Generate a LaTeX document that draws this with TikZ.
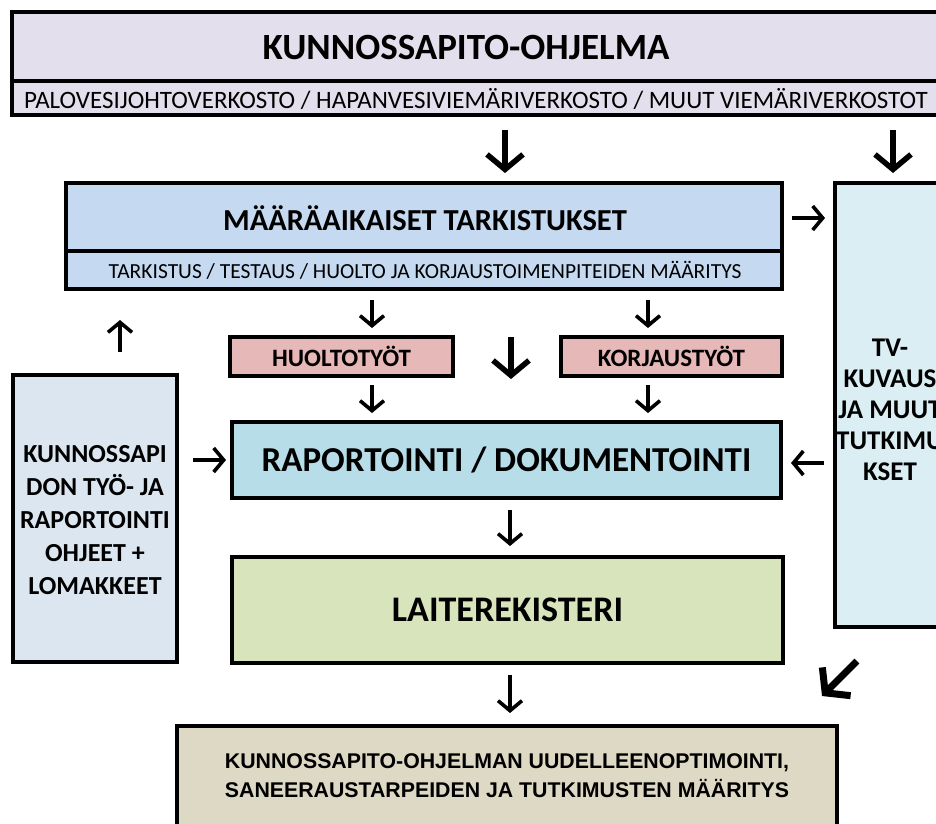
\documentclass[tikz,border=0pt]{standalone}
\usepackage{fontspec}
\setmainfont{Carlito}
\newfontfamily\arialfont{Liberation Sans}
\usetikzlibrary{arrows.meta}
\definecolor{cTop}{HTML}{E4DFEC}
\definecolor{cTark}{HTML}{C5D9F1}
\definecolor{cTV}{HTML}{DAEEF3}
\definecolor{cWork}{HTML}{E6B8B7}
\definecolor{cRap}{HTML}{B7DEE8}
\definecolor{cLeft}{HTML}{DCE6F1}
\definecolor{cLaite}{HTML}{D8E4BC}
\definecolor{cBot}{HTML}{DDD9C4}
\begin{document}
\begin{tikzpicture}[x=1pt,y=-1pt,
  box/.style={draw=black, line width=4.5pt, inner sep=0pt, align=center},
  arr/.style={line width=3.6pt, -{Straight Barb[length=10pt,width=24pt,line width=3.6pt]}},
  bigarr/.style={line width=5.5pt, -{Straight Barb[length=15pt,width=36pt,line width=5.5pt]}},
  txt/.style={inner sep=0pt, align=center}
]
\useasboundingbox (0,0) rectangle (936,823);
\clip (0,0) rectangle (936,823);

% top box
\node[box, fill=cTop, minimum width=940pt, minimum height=103pt] (top) at (482,63.5) {};
\draw[line width=4pt] (12,81) -- (952,81);
\node[txt, font=\bfseries\fontsize{37}{40}\selectfont] (toptitle) at (466,47) {KUNNOSSAPITO-OHJELMA};
\node[txt, font=\fontsize{25}{28}\selectfont] (topsub) at (476,99) {PALOVESIJOHTOVERKOSTO / HAPANVESIVIEMÄRIVERKOSTO / MUUT VIEMÄRIVERKOSTOT};

% tarkistukset
\node[box, fill=cTark, minimum width=716pt, minimum height=106pt] (tark) at (424,236) {};
\draw[line width=3.5pt] (66,251) -- (782,251);
\node[txt, font=\bfseries\fontsize{30.5}{33}\selectfont] (tarktitle) at (425,218) {MÄÄRÄAIKAISET TARKISTUKSET};
\node[txt, font=\fontsize{21.5}{24}\selectfont] (tarksub) at (425,270) {TARKISTUS / TESTAUS / HUOLTO JA KORJAUSTOIMENPITEIDEN MÄÄRITYS};

% TV box
\node[box, fill=cTV, minimum width=120pt, minimum height=444pt] (tv) at (895,405) {};
\node[txt, font=\bfseries\fontsize{27}{31}\selectfont] (tvtext) at (890,410) {TV-\\KUVAUS\\JA MUUT\\TUTKIMU\\KSET};

% works
\node[box, fill=cWork, minimum width=223pt, minimum height=39pt, font=\bfseries\fontsize{25}{28}\selectfont] (huolto) at (341.5,356.5) {HUOLTOTYÖT};
\node[box, fill=cWork, minimum width=221pt, minimum height=39pt, font=\bfseries\fontsize{25}{28}\selectfont] (korjaus) at (671.5,356.5) {KORJAUSTYÖT};

% raportointi
\node[box, fill=cRap, minimum width=549pt, minimum height=76pt, font=\bfseries\fontsize{35}{38}\selectfont] (rap) at (506.5,460) {RAPORTOINTI / DOKUMENTOINTI};

% left box
\node[box, fill=cLeft, minimum width=164pt, minimum height=287pt] (left) at (95,518.5) {};
\node[txt, font=\bfseries\fontsize{26}{33}\selectfont] (lefttext) at (95,520) {KUNNOSSAPI\\DON TYÖ- JA\\RAPORTOINTI\\OHJEET +\\LOMAKKEET};

% laiterekisteri
\node[box, fill=cLaite, minimum width=551pt, minimum height=106pt, font=\bfseries\fontsize{36}{38}\selectfont] (laite) at (507.5,610) {LAITEREKISTERI};

% bottom
\node[box, fill=cBot, minimum width=660pt, minimum height=110pt] (bot) at (507,781) {};
\node[txt, font=\arialfont\bfseries\fontsize{21.3}{29}\selectfont] (bottext) at (507,776) {KUNNOSSAPITO-OHJELMAN UUDELLEENOPTIMOINTI,\\SANEERAUSTARPEIDEN JA TUTKIMUSTEN MÄÄRITYS};

% arrow coordinates
\coordinate (a1s) at (505,130); \coordinate (a1e) at (505,173);
\coordinate (a2s) at (893,130); \coordinate (a2e) at (893,173);
\coordinate (a3s) at (792,218); \coordinate (a3e) at (825,218);
\coordinate (a4s) at (372,300); \coordinate (a4e) at (372,328);
\coordinate (a5s) at (648,300); \coordinate (a5e) at (648,328);
\coordinate (a6s) at (511,337); \coordinate (a6e) at (511,379);
\coordinate (a7s) at (372,385); \coordinate (a7e) at (372,413);
\coordinate (a8s) at (648,385); \coordinate (a8e) at (648,413);
\coordinate (a9s) at (120,352); \coordinate (a9e) at (120,320);
\coordinate (a10s) at (193,460); \coordinate (a10e) at (226,460);
\coordinate (a11s) at (824,463); \coordinate (a11e) at (791,463);
\coordinate (a12s) at (510,510); \coordinate (a12e) at (510,546);
\coordinate (a13s) at (857,661); \coordinate (a13e) at (822,696);
\coordinate (a14s) at (510,675); \coordinate (a14e) at (510,713);

\draw[bigarr] (a1s) -- (a1e);
\draw[bigarr] (a2s) -- (a2e);
\draw[arr] (a3s) -- (a3e);
\draw[arr] (a4s) -- (a4e);
\draw[arr] (a5s) -- (a5e);
\draw[bigarr] (a6s) -- (a6e);
\draw[arr] (a7s) -- (a7e);
\draw[arr] (a8s) -- (a8e);
\draw[arr] (a9s) -- (a9e);
\draw[arr] (a10s) -- (a10e);
\draw[arr] (a11s) -- (a11e);
\draw[arr] (a12s) -- (a12e);
\draw[line width=7pt, -{Straight Barb[length=16pt,width=40pt,line width=7pt]}] (a13s) -- (a13e);
\draw[arr] (a14s) -- (a14e);
\end{tikzpicture}
\end{document}
